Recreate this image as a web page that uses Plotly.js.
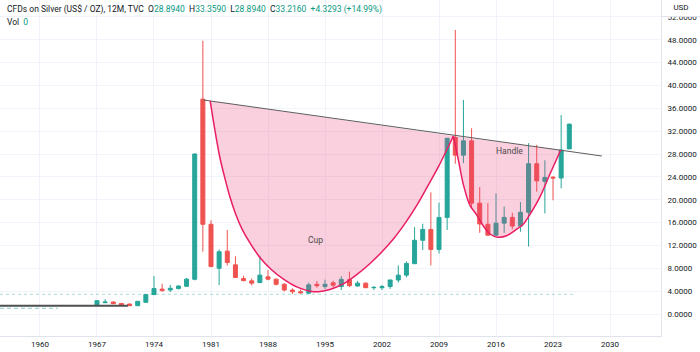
<!DOCTYPE html>
<html>
<head>
<meta charset="utf-8">
<script src="https://cdn.plot.ly/plotly-3.0.1.min.js"></script>
<style>html,body{margin:0;padding:0;background:#fff;}#chart{width:700px;height:352px;}</style>
</head>
<body>
<div id="chart"></div>
<script>
// Yearly candles (CFDs on Silver, 12M)
const years = [1967,1968,1969,1970,1971,1972,1973,1974,1975,1976,1977,1978,1979,1980,1981,1982,1983,1984,1985,1986,1987,1988,1989,1990,1991,1992,1993,1994,1995,1996,1997,1998,1999,2000,2001,2002,2003,2004,2005,2006,2007,2008,2009,2010,2011,2012,2013,2014,2015,2016,2017,2018,2019,2020,2021,2022,2023,2024,2025];
const openV = [1.52,1.98,2.1,1.85,1.75,1.45,2.05,3.4,4.35,4.2,4.45,4.85,6.07,37.6,15.7,8.0,11.0,8.6,6.2,5.8,5.5,6.5,6.1,5.2,4.2,3.9,3.65,5.2,4.8,5.45,4.8,6.0,4.9,5.4,4.6,4.6,4.8,5.95,6.8,8.8,12.9,14.8,11.3,16.9,30.9,27.8,30.3,19.4,15.7,13.8,15.9,16.9,15.4,17.8,26.3,23.2,23.95,23.8,28.894];
const highV = [2.35,2.6,2.15,1.9,1.8,2.25,3.45,6.65,5.3,5.1,5.0,6.3,28.1,47.8,16.4,11.3,14.7,10.1,6.7,6.2,10.2,7.7,6.2,5.4,4.5,4.3,5.5,5.75,6.0,5.8,6.6,7.4,5.8,5.5,4.9,5.1,6.0,8.5,9.2,15.2,15.8,21.3,19.5,30.8,49.7,37.45,32.5,22.2,19.4,21.1,18.8,17.7,19.6,29.9,29.6,26.9,24.1,34.8,33.359];
const lowV  = [1.5,1.9,1.75,1.55,1.4,1.4,2.0,3.3,3.9,3.85,4.3,4.8,5.9,10.9,8.2,5.05,8.5,6.3,5.7,5.0,5.4,5.9,5.0,3.95,3.5,3.6,3.5,4.6,4.4,4.7,4.2,4.7,4.8,4.6,4.2,4.2,4.4,5.5,6.4,8.8,11.2,8.5,10.6,14.7,26.3,26.4,18.7,14.2,13.7,13.7,14.2,14.8,14.4,11.8,21.4,17.6,19.9,22.0,28.894];
const closeV= [2.33,2.1,1.8,1.6,1.45,2.22,3.4,4.45,4.1,4.5,4.9,6.1,28.0,15.7,8.3,10.9,9.0,6.4,5.85,5.4,6.8,6.1,5.2,4.2,3.9,3.7,5.1,4.95,5.2,5.05,6.05,4.95,5.4,4.6,4.65,4.8,5.95,6.8,8.85,12.9,14.8,11.3,16.9,30.75,27.8,30.3,19.4,15.75,13.8,15.9,16.9,15.4,17.8,26.3,23.3,23.9,23.8,28.7,33.216];

// Older history drawn as a flat line
const oldX = [1955.09, 1970.8];
const oldY = [1.45, 1.45];
const oldDashX = [1955.09, 1962.2];
const oldDashY = [1.0, 1.0];
// Dashed reference level
const refX = [1955.09, 2025.4];
const refY = [3.45, 3.45];

// Drawn pattern: resistance line, cup and handle curves
const resX = [1980.06, 2029.0];
const resY = [37.45, 27.65];
const cupX = [1980.9,1981.5,1982.1,1982.7,1983.3,1984.0,1984.8,1985.8,1987.0,1988.4,1989.9,1991.6,1993.6,1995.6,1997.3,1998.9,2000.5,2002.0,2003.5,2005.0,2006.4,2007.7,2008.9,2009.95,2010.76];
const cupY = [37.3,32.0,27.3,23.8,20.6,17.6,14.9,12.4,9.9,7.8,6.1,4.7,3.9,4.3,5.3,6.9,8.8,10.9,13.3,16.2,19.3,22.6,25.7,28.7,31.15];
const handleX = [2010.76,2011.4,2012.0,2012.8,2013.6,2014.4,2015.26,2016.2,2017.3,2018.5,2019.4,2020.2,2021.4,2022.6,2023.95];
const handleY = [31.15,26.8,22.6,19.0,17.4,15.5,14.0,13.45,13.7,14.8,15.8,17.5,20.5,24.4,28.7];

const UP = '#26a69a', DOWN = '#ef5350';
const FILL = 'rgba(236,64,122,0.25)';
const CURVE = '#e91e63';

const traces = [
  {type:'scatter', mode:'lines', x:refX, y:refY, line:{color:'rgba(38,166,154,0.4)', width:1, dash:'3px,3px'}, hoverinfo:'skip', showlegend:false},
  {type:'scatter', mode:'lines', x:oldDashX, y:oldDashY, line:{color:'rgba(38,166,154,0.55)', width:1, dash:'4px,3px'}, hoverinfo:'skip', showlegend:false},
  {type:'scatter', mode:'lines', x:oldX, y:oldY, line:{color:'#4f4f4f', width:2}, hoverinfo:'skip', showlegend:false},
  {type:'candlestick', x:years, open:openV, high:highV, low:lowV, close:closeV,
   increasing:{line:{color:UP, width:1}, fillcolor:UP},
   decreasing:{line:{color:DOWN, width:1}, fillcolor:DOWN},
   whiskerwidth:0, hoverinfo:'skip', showlegend:false},
  {type:'scatter', mode:'lines', x:cupX, y:cupY, fill:'toself', fillcolor:FILL, line:{width:0, shape:'spline', smoothing:0.8}, hoverinfo:'skip', showlegend:false},
  {type:'scatter', mode:'lines', x:handleX, y:handleY, fill:'toself', fillcolor:FILL, line:{width:0, shape:'spline', smoothing:0.8}, hoverinfo:'skip', showlegend:false},
  {type:'scatter', mode:'lines', x:resX, y:resY, line:{color:'#5d5d5d', width:1}, hoverinfo:'skip', showlegend:false},
  {type:'scatter', mode:'lines', x:cupX, y:cupY, line:{color:CURVE, width:1.5, shape:'spline', smoothing:0.8}, hoverinfo:'skip', showlegend:false},
  {type:'scatter', mode:'lines', x:handleX, y:handleY, line:{color:CURVE, width:1.5, shape:'spline', smoothing:0.8}, hoverinfo:'skip', showlegend:false}
];

const T = '#089981';
const hdr = 'CFDs on Silver (US$ / OZ), 12M, TVC  O<span style="color:'+T+'">28.8940</span>  H<span style="color:'+T+'">33.3590</span>  L<span style="color:'+T+'">28.8940</span>  C<span style="color:'+T+'">33.2160</span>  <span style="color:'+T+'">+4.3293 (+14.99%)</span>';

const layout = {
  width:700, height:352,
  margin:{l:0, r:39, t:0, b:16, pad:0},
  paper_bgcolor:'#ffffff', plot_bgcolor:'#ffffff',
  font:{family:'Roboto, "Liberation Sans", sans-serif', color:'#131722', size:8},
  showlegend:false,
  xaxis:{type:'linear', range:[1955.09, 2036.26], tick0:1960, dtick:7, showgrid:true, gridcolor:'#f0f3fa', gridwidth:1,
         zeroline:false, showline:true, linecolor:'#e0e3eb', ticks:'', tickfont:{size:8, color:'#131722'},
         rangeslider:{visible:false}, fixedrange:true},
  yaxis:{side:'right', range:[-3.85, 54.95], tick0:0, dtick:4, tickformat:'.4f', showgrid:true, gridcolor:'#f0f3fa', gridwidth:1,
         zeroline:false, showline:true, linecolor:'#e0e3eb', ticks:'outside', ticklen:4, tickcolor:'rgba(0,0,0,0)',
         tickfont:{size:8, color:'#131722'}, fixedrange:true},
  annotations:[
    {xref:'paper', yref:'paper', x:5/661, y:1-9/336, xanchor:'left', yanchor:'middle', showarrow:false, text:hdr, font:{size:8.5, color:'#131722'}},
    {xref:'paper', yref:'paper', x:5/661, y:1-22/336, xanchor:'left', yanchor:'middle', showarrow:false, text:'Vol  <span style="color:'+T+'">0</span>', font:{size:8.5, color:'#131722'}},
    {x:1993.8, y:12.95, xref:'x', yref:'y', showarrow:false, text:'Cup', font:{size:8.5, color:'#4a4a4a'}},
    {x:2017.6, y:28.6, xref:'x', yref:'y', showarrow:false, text:'Handle', font:{size:8.5, color:'#4a4a4a'}},
    {xref:'paper', yref:'paper', x:681/661, y:1-7.5/336, xanchor:'center', yanchor:'middle', showarrow:false, text:'USD',
     bgcolor:'#ffffff', bordercolor:'#e0e3eb', borderwidth:1, borderpad:1, width:36, height:15, font:{size:8, color:'#131722'}}
  ]
};

Plotly.newPlot('chart', traces, layout, {displayModeBar:false, staticPlot:true});
</script>
</body>
</html>
